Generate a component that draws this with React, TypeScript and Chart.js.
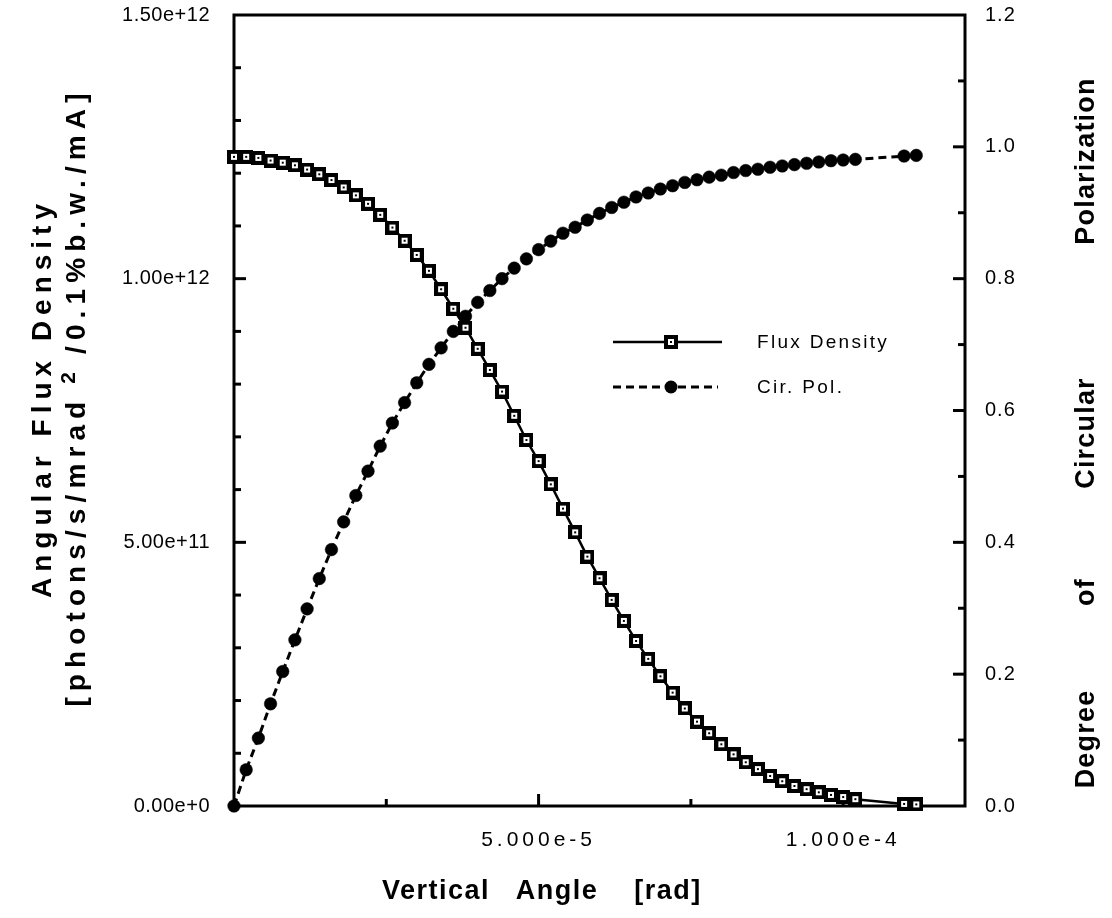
import React, { useEffect, useRef } from 'react';
import { Chart, registerables } from 'chart.js';

Chart.register(...registerables);

// Vertical angle of each sample, in microradians
const angleMicroRad = [
  0, 2, 4, 6, 8, 10, 12, 14, 16, 18, 20, 22, 24, 26, 28, 30, 32, 34, 36, 38,
  40, 42, 44, 46, 48, 50, 52, 54, 56, 58, 60, 62, 64, 66, 68, 70, 72, 74, 76, 78,
  80, 82, 84, 86, 88, 90, 92, 94, 96, 98, 100, 102, 110, 112,
];

// Angular flux density [photons/s/mrad^2/0.1%b.w./mA]
const fluxDensity = [
  1.231e12, 1.231e12, 1.229e12, 1.224e12, 1.220e12, 1.215e12, 1.207e12, 1.198e12, 1.187e12, 1.173e12,
  1.158e12, 1.142e12, 1.121e12, 1.097e12, 1.072e12, 1.045e12, 1.015e12, 0.980e12, 0.943e12, 0.907e12,
  0.867e12, 0.827e12, 0.786e12, 0.740e12, 0.694e12, 0.654e12, 0.610e12, 0.564e12, 0.519e12, 0.473e12,
  0.432e12, 0.391e12, 0.351e12, 0.313e12, 0.279e12, 0.246e12, 0.215e12, 0.185e12, 0.160e12, 0.138e12,
  0.117e12, 0.098e12, 0.083e12, 0.070e12, 0.057e12, 0.047e12, 0.038e12, 0.032e12, 0.026e12, 0.021e12,
  0.017e12, 0.013e12, 0.004e12, 0.003e12,
];

// Degree of circular polarization
const circularPolarization = [
  0.000, 0.055, 0.103, 0.155, 0.204, 0.252, 0.299, 0.345, 0.389, 0.431,
  0.471, 0.508, 0.546, 0.581, 0.612, 0.642, 0.670, 0.695, 0.720, 0.743,
  0.764, 0.782, 0.800, 0.816, 0.830, 0.844, 0.857, 0.869, 0.878, 0.889,
  0.899, 0.908, 0.916, 0.924, 0.930, 0.936, 0.941, 0.946, 0.950, 0.954,
  0.957, 0.961, 0.964, 0.966, 0.969, 0.971, 0.973, 0.975, 0.977, 0.979,
  0.980, 0.981, 0.986, 0.987,
];

const seriesLabels = ['Flux Density', 'Cir. Pol.'];

const xMin = 0;
const xMax = 1.2e-4;
const xLabelTicks = [5e-5, 1e-4];
const xMinorTicks = [2.5e-5, 7.5e-5];

const yLeftMax = 1.5e12;
const yLeftStep = 5e11;
const yLeftMinorStep = 1e11;

const yRightMax = 1.2;
const yRightStep = 0.2;
const yRightMinorStep = 0.1;

const xTitleWords = ['Vertical', 'Angle', '[rad]'];
const leftTitleLine1 = 'Angular Flux Density';
const leftTitleLine2 = ['[photons/s/mrad', '2', '/0.1%b.w./mA]'];
const rightTitleWords = ['Degree', 'of', 'Circular', 'Polarization'];

const FONT = '"Liberation Sans", Arial, Helvetica, sans-serif';

function fixedScale(px: string, size: { w?: number; h?: number }) {
  return (scale: any) => {
    if (size.w !== undefined) scale.width = size.w;
    if (size.h !== undefined) scale.height = size.h;
    scale.paddingTop = 0;
    scale.paddingBottom = 0;
    scale.paddingLeft = 0;
    scale.paddingRight = 0;
    if (!scale.__spaced) {
      const orig = scale.drawLabels;
      scale.drawLabels = function (ca: any) {
        const c = this.ctx;
        c.save();
        try { c.letterSpacing = px; } catch (e) { /* ignore */ }
        orig.call(this, ca);
        c.restore();
      };
      scale.__spaced = true;
    }
  };
}

function makeSquareMarker(): HTMLCanvasElement {
  const c = document.createElement('canvas');
  c.width = 14;
  c.height = 14;
  const g = c.getContext('2d')!;
  g.fillStyle = '#000';
  g.fillRect(0, 0, 14, 14);
  g.fillStyle = '#fff';
  g.fillRect(4, 4, 6, 6);
  g.fillStyle = '#000';
  g.fillRect(6, 6, 2, 2);
  return c;
}

function setSpacing(ctx: any, px: string) {
  try { ctx.letterSpacing = px; } catch (e) { /* ignore */ }
}

export default function App() {
  const ref = useRef<HTMLCanvasElement | null>(null);

  useEffect(() => {
    const canvas = ref.current;
    if (!canvas) return;
    const square = makeSquareMarker();

    const framePlugin = {
      id: 'framePlugin',
      beforeDatasetsDraw(chart: any) {
        const { ctx, chartArea: a, scales } = chart;
        ctx.save();
        ctx.strokeStyle = '#000';
        ctx.lineWidth = 3;
        ctx.strokeRect(a.left, a.top, a.right - a.left, a.bottom - a.top);
        const seg = (x1: number, y1: number, x2: number, y2: number) => {
          ctx.beginPath();
          ctx.moveTo(x1, y1);
          ctx.lineTo(x2, y2);
          ctx.stroke();
        };
        for (let i = 1; i * yLeftMinorStep < yLeftMax - 1; i++) {
          const y = scales.y.getPixelForValue(i * yLeftMinorStep);
          const major = i % Math.round(yLeftStep / yLeftMinorStep) === 0;
          seg(a.left, y, a.left + (major ? 12 : 7), y);
        }
        for (let i = 1; i * yRightMinorStep < yRightMax - 1e-6; i++) {
          const y = scales.y1.getPixelForValue(i * yRightMinorStep);
          const major = i % Math.round(yRightStep / yRightMinorStep) === 0;
          seg(a.right, y, a.right - (major ? 12 : 7), y);
        }
        for (const v of xLabelTicks) {
          const x = scales.x.getPixelForValue(v);
          seg(x, a.bottom, x, a.bottom - 12);
        }
        for (const v of xMinorTicks) {
          const x = scales.x.getPixelForValue(v);
          seg(x, a.bottom, x, a.bottom - 7);
        }
        ctx.restore();
      },
      afterDraw(chart: any) {
        const { ctx } = chart;
        ctx.save();
        ctx.fillStyle = '#000';
        ctx.strokeStyle = '#000';

        // Legend
        const legendY = [342, 387];
        ctx.lineWidth = 2.5;
        ctx.setLineDash([]);
        ctx.beginPath();
        ctx.moveTo(613, legendY[0]);
        ctx.lineTo(722, legendY[0]);
        ctx.stroke();
        ctx.drawImage(square, 671 - 7, legendY[0] - 7);
        ctx.lineWidth = 3;
        ctx.setLineDash([8, 5]);
        ctx.beginPath();
        ctx.moveTo(613, legendY[1]);
        ctx.lineTo(718, legendY[1]);
        ctx.stroke();
        ctx.setLineDash([]);
        ctx.beginPath();
        ctx.arc(671, legendY[1], 6.5, 0, Math.PI * 2);
        ctx.fill();
        ctx.font = `19px ${FONT}`;
        setSpacing(ctx, '2.3px');
        ctx.textAlign = 'left';
        ctx.textBaseline = 'middle';
        const labels = chart.data.datasets.map((d: any) => d.label);
        ctx.fillText(labels[0], 757, legendY[0] + 1);
        ctx.fillText(labels[1], 757, legendY[1] + 1);

        // X title
        ctx.font = `bold 27px ${FONT}`;
        setSpacing(ctx, '1.5px');
        ctx.textAlign = 'center';
        const xCenters = [436, 557, 668];
        xTitleWords.forEach((w, i) => ctx.fillText(w, xCenters[i], 892));

        // Left title line 1 (rotated)
        ctx.save();
        ctx.translate(43, 398);
        ctx.rotate(-Math.PI / 2);
        ctx.font = `bold 28px ${FONT}`;
        setSpacing(ctx, '6px');
        ctx.fillText(leftTitleLine1, 0, 0);
        ctx.restore();

        // Left title line 2 (rotated, with raised exponent)
        ctx.save();
        ctx.translate(77, 0);
        ctx.rotate(-Math.PI / 2);
        ctx.textAlign = 'left';
        setSpacing(ctx, '6.1px');
        const [p0, p1, p2] = leftTitleLine2;
        ctx.font = `bold 28px ${FONT}`;
        const w0 = ctx.measureText(p0).width;
        const w2 = ctx.measureText(p2).width;
        ctx.font = `bold 21px ${FONT}`;
        const w1 = ctx.measureText(p1).width;
        const gap = 12;
        const total = w0 + gap + w1 + gap + w2;
        let sx = -397 - total / 2;
        ctx.font = `bold 28px ${FONT}`;
        ctx.fillText(p0, sx, 0);
        sx += w0 + gap;
        ctx.font = `bold 21px ${FONT}`;
        ctx.fillText(p1, sx, -8);
        sx += w1 + gap;
        ctx.font = `bold 28px ${FONT}`;
        ctx.fillText(p2, sx, 0);
        ctx.restore();

        // Right title (rotated, reading upward)
        ctx.save();
        ctx.translate(1087, 0);
        ctx.rotate(-Math.PI / 2);
        ctx.font = `bold 27px ${FONT}`;
        setSpacing(ctx, '1.2px');
        ctx.textAlign = 'center';
        const rCenters = [739, 592, 433, 161];
        rightTitleWords.forEach((w, i) => ctx.fillText(w, -rCenters[i], 0));
        ctx.restore();

        ctx.restore();
      },
    };

    const chart = new Chart(canvas, {
      type: 'line',
      data: {
        datasets: [
          {
            label: seriesLabels[0],
            data: angleMicroRad.map((a, i) => ({ x: a * 1e-6, y: fluxDensity[i] })),
            yAxisID: 'y',
            borderColor: '#000',
            backgroundColor: '#000',
            borderWidth: 2.5,
            pointStyle: square as any,
            pointRadius: 7,
            pointHoverRadius: 7,
            tension: 0,
            fill: false,
            clip: false as any,
          },
          {
            label: seriesLabels[1],
            data: angleMicroRad.map((a, i) => ({ x: a * 1e-6, y: circularPolarization[i] })),
            yAxisID: 'y1',
            borderColor: '#000',
            backgroundColor: '#000',
            borderWidth: 3,
            borderDash: [8, 5],
            pointStyle: 'circle',
            pointRadius: 6.3,
            pointHoverRadius: 6.3,
            pointBackgroundColor: '#000',
            pointBorderColor: '#000',
            pointBorderWidth: 0.5,
            tension: 0,
            fill: false,
            clip: false as any,
          },
        ],
      },
      options: {
        animation: false,
        responsive: false,
        maintainAspectRatio: false,
        events: [],
        layout: { padding: { top: 15, left: 0, right: 0, bottom: 0 } },
        plugins: {
          legend: { display: false },
          tooltip: { enabled: false },
          title: { display: false },
        },
        scales: {
          x: {
            type: 'linear',
            position: 'bottom',
            min: xMin,
            max: xMax,
            grid: { display: false },
            border: { display: false },
            ticks: {
              color: '#000',
              font: { family: FONT, size: 21 },
              padding: 14,
              maxRotation: 0,
              autoSkip: false,
              callback: (v: any) => Number(v).toExponential(3),
            },
            afterBuildTicks: (s: any) => {
              s.ticks = xLabelTicks.map((v) => ({ value: v }));
            },
            afterFit: fixedScale('4px', { h: 112 }),
          },
          y: {
            type: 'linear',
            position: 'left',
            min: 0,
            max: yLeftMax,
            grid: { display: false },
            border: { display: false },
            ticks: {
              color: '#000',
              font: { family: FONT, size: 20 },
              padding: 16,
              stepSize: yLeftStep,
              callback: (v: any) => Number(v).toExponential(2),
            },
            afterFit: fixedScale('0.5px', { w: 234 }),
          },
          y1: {
            type: 'linear',
            position: 'right',
            min: 0,
            max: yRightMax,
            grid: { display: false },
            border: { display: false },
            ticks: {
              color: '#000',
              font: { family: FONT, size: 20 },
              padding: 12,
              stepSize: yRightStep,
              callback: (v: any) => Number(v).toFixed(1),
            },
            afterFit: fixedScale('1px', { w: 147 }),
          },
        },
      } as any,
      plugins: [framePlugin],
    });

    return () => chart.destroy();
  }, []);

  return (
    <div style={{ position: 'fixed', left: 0, top: 0, width: 1112, height: 918, background: '#fff' }}>
      <canvas ref={ref} width={1112} height={918} style={{ display: 'block', width: 1112, height: 918 }} />
    </div>
  );
}
